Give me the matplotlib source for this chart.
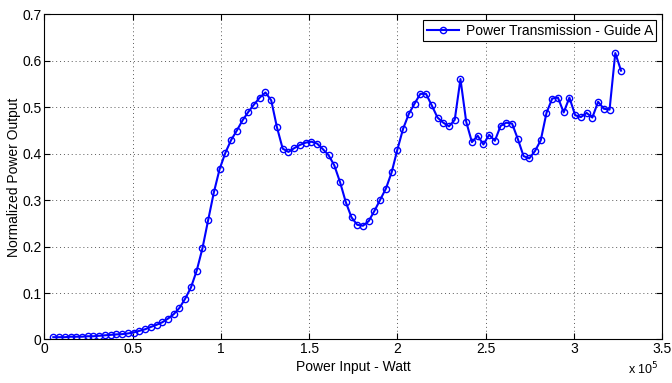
import numpy as np
import matplotlib
matplotlib.use("Agg")
import matplotlib.pyplot as plt
from matplotlib.ticker import FuncFormatter

# power input grid (W), 100 samples
power_in = np.linspace(5000, 326750, 100)

# normalized output
power_out = [
    0.005, 0.005, 0.005, 0.006, 0.006, 0.006, 0.007, 0.007, 0.008, 0.009,
    0.010, 0.011, 0.0115, 0.013, 0.015, 0.0186, 0.022, 0.027, 0.0316, 0.037,
    0.045, 0.0546, 0.068, 0.088, 0.112, 0.148, 0.196, 0.257, 0.317, 0.367,
    0.402, 0.4295, 0.450, 0.472, 0.490, 0.506, 0.521, 0.532, 0.515, 0.457,
    0.411, 0.404, 0.412, 0.419, 0.424, 0.426, 0.422, 0.410, 0.397, 0.375,
    0.339, 0.296, 0.263, 0.247, 0.245, 0.255, 0.277, 0.301, 0.325, 0.360,
    0.409, 0.454, 0.486, 0.508, 0.529, 0.529, 0.504, 0.478, 0.467, 0.459,
    0.473, 0.561, 0.469, 0.425, 0.439, 0.420, 0.441, 0.428, 0.460, 0.467,
    0.465, 0.432, 0.395, 0.390, 0.406, 0.429, 0.488, 0.519, 0.521, 0.489,
    0.521, 0.483, 0.479, 0.488, 0.478, 0.512, 0.497, 0.495, 0.617, 0.579,
]

plt.rcParams['font.family'] = ['Liberation Sans', 'DejaVu Sans']

fig = plt.figure(figsize=(6.72, 3.83), dpi=100)
ax = fig.add_axes([0.0662, 0.1136, 0.919, 0.8486])

ax.plot(power_in, power_out, '-o', color=(0, 0, 1), lw=1.5, ms=4.5,
        mfc='none', mec=(0, 0, 1), mew=1.0,
        label='Power Transmission - Guide A')

ax.set_xlim(0, 3.5e5)
ax.set_ylim(0, 0.7)
ax.set_xticks(np.arange(0, 3.51e5, 0.5e5))
ax.set_yticks(np.arange(0, 0.71, 0.1))
ax.xaxis.set_major_formatter(FuncFormatter(lambda v, p: ('%g' % (v / 1e5))))
ax.yaxis.set_major_formatter(FuncFormatter(lambda v, p: ('%g' % round(v, 2))))

ax.grid(True, ls=(0, (1, 3)), color='0.35', lw=0.7)
ax.tick_params(direction='in', top=True, right=True, labelsize=10, length=4, pad=2)
for s in ax.spines.values():
    s.set_linewidth(0.8)

ax.set_xlabel('Power Input - Watt', fontsize=10, labelpad=3)
ax.set_ylabel('Normalized Power Output', fontsize=10, labelpad=1)
fig.text(0.934, 0.015, r'x 10$^{5}$', fontsize=9, ha='left', va='bottom')

leg = ax.legend(loc='upper right', fontsize=10, fancybox=False, framealpha=1,
                edgecolor='black', borderaxespad=0.4, handlelength=2.3,
                borderpad=0.25, handletextpad=0.5)
leg.get_frame().set_linewidth(0.8)

fig.savefig('out.png', dpi=100)
